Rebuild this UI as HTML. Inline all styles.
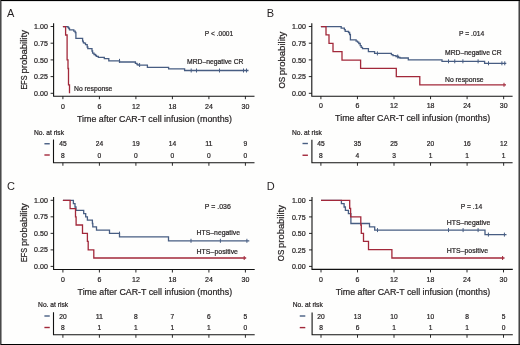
<!DOCTYPE html>
<html><head><meta charset="utf-8"><style>
html,body{margin:0;padding:0;background:#fff;}
svg{display:block;will-change:transform;}
text{font-family:"Liberation Sans", sans-serif;stroke:#231f20;stroke-width:0.22px;}
</style></head><body>
<svg width="520" height="345" viewBox="0 0 520 345">
<rect x="0" y="0" width="520" height="345" fill="#fefefd"/>
<path d="M53.6,23.3 V96.2 H254.5" fill="none" stroke="#111" stroke-width="1.1"/>
<line x1="50.6" y1="26.50" x2="53.6" y2="26.50" stroke="#111" stroke-width="0.9"/>
<text x="47.8" y="29.10" font-size="7.3" text-anchor="end" fill="#231f20" textLength="13.7" lengthAdjust="spacingAndGlyphs">1.00</text>
<line x1="50.6" y1="43.20" x2="53.6" y2="43.20" stroke="#111" stroke-width="0.9"/>
<text x="47.8" y="45.80" font-size="7.3" text-anchor="end" fill="#231f20" textLength="13.7" lengthAdjust="spacingAndGlyphs">0.75</text>
<line x1="50.6" y1="59.90" x2="53.6" y2="59.90" stroke="#111" stroke-width="0.9"/>
<text x="47.8" y="62.50" font-size="7.3" text-anchor="end" fill="#231f20" textLength="13.7" lengthAdjust="spacingAndGlyphs">0.50</text>
<line x1="50.6" y1="76.60" x2="53.6" y2="76.60" stroke="#111" stroke-width="0.9"/>
<text x="47.8" y="79.20" font-size="7.3" text-anchor="end" fill="#231f20" textLength="13.7" lengthAdjust="spacingAndGlyphs">0.25</text>
<line x1="50.6" y1="93.30" x2="53.6" y2="93.30" stroke="#111" stroke-width="0.9"/>
<text x="47.8" y="95.90" font-size="7.3" text-anchor="end" fill="#231f20" textLength="13.7" lengthAdjust="spacingAndGlyphs">0.00</text>
<line x1="62.90" y1="96.2" x2="62.90" y2="99.2" stroke="#111" stroke-width="0.9"/>
<text x="62.90" y="109.1" font-size="7.5" text-anchor="middle" fill="#231f20" textLength="3.9" lengthAdjust="spacingAndGlyphs">0</text>
<line x1="99.40" y1="96.2" x2="99.40" y2="99.2" stroke="#111" stroke-width="0.9"/>
<text x="99.40" y="109.1" font-size="7.5" text-anchor="middle" fill="#231f20" textLength="3.9" lengthAdjust="spacingAndGlyphs">6</text>
<line x1="135.90" y1="96.2" x2="135.90" y2="99.2" stroke="#111" stroke-width="0.9"/>
<text x="135.90" y="109.1" font-size="7.5" text-anchor="middle" fill="#231f20" textLength="7.8" lengthAdjust="spacingAndGlyphs">12</text>
<line x1="172.40" y1="96.2" x2="172.40" y2="99.2" stroke="#111" stroke-width="0.9"/>
<text x="172.40" y="109.1" font-size="7.5" text-anchor="middle" fill="#231f20" textLength="7.8" lengthAdjust="spacingAndGlyphs">18</text>
<line x1="208.90" y1="96.2" x2="208.90" y2="99.2" stroke="#111" stroke-width="0.9"/>
<text x="208.90" y="109.1" font-size="7.5" text-anchor="middle" fill="#231f20" textLength="7.8" lengthAdjust="spacingAndGlyphs">24</text>
<line x1="245.40" y1="96.2" x2="245.40" y2="99.2" stroke="#111" stroke-width="0.9"/>
<text x="245.40" y="109.1" font-size="7.5" text-anchor="middle" fill="#231f20" textLength="7.8" lengthAdjust="spacingAndGlyphs">30</text>
<text x="77.0" y="122.1" font-size="9.9" text-anchor="start" fill="#231f20" textLength="155" lengthAdjust="spacingAndGlyphs">Time after CAR-T cell infusion (months)</text>
<text transform="translate(26.7,89.4) rotate(-90)" x="0" y="0" font-size="8.6" fill="#231f20" textLength="13.90" lengthAdjust="spacingAndGlyphs">EFS</text>
<text transform="translate(26.7,73.6) rotate(-90)" x="0" y="0" font-size="8.6" fill="#231f20" textLength="43.50" lengthAdjust="spacingAndGlyphs">probability</text>
<text x="7.0" y="16.8" font-size="11" text-anchor="start" fill="#231f20" style="stroke:none">A</text>
<text x="204.8" y="35.6" font-size="7.9" text-anchor="start" fill="#231f20" textLength="28.4" lengthAdjust="spacingAndGlyphs">P &lt; .0001</text>
<text x="187" y="64" font-size="7.2" text-anchor="start" fill="#231f20" textLength="56.5" lengthAdjust="spacingAndGlyphs">MRD–negative CR</text>
<text x="74" y="90.8" font-size="7.2" text-anchor="start" fill="#231f20" textLength="38.4" lengthAdjust="spacingAndGlyphs">No response</text>
<path d="M62.9,26.6 H68 V27.5 H68.8 V28.5 H69.5 V29.8 H73.8 V31.2 H75.2 V32.5 H75.9 V38.4 H82.6 V41.2 H83.3 V42.6 H84 V43.2 H85.5 V44.7 H87.2 V47 H87.8 V48.7 H92 V51 H92.6 V53.2 H94 V54.5 H95.5 V55.5 H96.5 V56.3 H98.3 V57.4 H104.3 V58.6 H108.8 V60.85 H119.5 V62 H135.4 V63.3 H137 V64.5 H138 V65.2 H147.4 V67.3 H168.6 V68.8 H184.6 V70.5 H248.5" fill="none" stroke="#475d82" stroke-width="1.3" stroke-linejoin="miter"/>
<line x1="119.5" y1="58.85" x2="119.5" y2="62.85" stroke="#475d82" stroke-width="1"/>
<line x1="139.6" y1="63" x2="139.6" y2="67" stroke="#475d82" stroke-width="1"/>
<line x1="191.2" y1="68.5" x2="191.2" y2="72.5" stroke="#475d82" stroke-width="1"/>
<line x1="196.5" y1="68.5" x2="196.5" y2="72.5" stroke="#475d82" stroke-width="1"/>
<line x1="219.5" y1="68.5" x2="219.5" y2="72.5" stroke="#475d82" stroke-width="1"/>
<line x1="243.5" y1="68.5" x2="243.5" y2="72.5" stroke="#475d82" stroke-width="1"/>
<line x1="246.5" y1="68.5" x2="246.5" y2="72.5" stroke="#475d82" stroke-width="1"/>
<path d="M62.9,26.6 H65.6 V35 H67.1 V59.8 H68 V68.5 H68.5 V84.9 H69.5 V93.3" fill="none" stroke="#a2283a" stroke-width="1.3" stroke-linejoin="miter"/>
<text x="34" y="134.75" font-size="7.2" text-anchor="start" fill="#231f20" textLength="30" lengthAdjust="spacingAndGlyphs">No. at risk</text>
<line x1="44.4" y1="143.75" x2="49.75" y2="143.75" stroke="#475d82" stroke-width="1.4"/>
<line x1="44.4" y1="155" x2="49.75" y2="155" stroke="#a2283a" stroke-width="1.4"/>
<path d="M53.5,139.4 V162.75 H254.5" fill="none" stroke="#111" stroke-width="1.1"/>
<line x1="62.90" y1="162.75" x2="62.90" y2="165.75" stroke="#111" stroke-width="0.9"/>
<text x="62.90" y="146.25" font-size="7.0" text-anchor="middle" fill="#231f20" textLength="7.4" lengthAdjust="spacingAndGlyphs">45</text>
<text x="62.90" y="157.50" font-size="7.0" text-anchor="middle" fill="#231f20" textLength="3.7" lengthAdjust="spacingAndGlyphs">8</text>
<line x1="99.40" y1="162.75" x2="99.40" y2="165.75" stroke="#111" stroke-width="0.9"/>
<text x="99.40" y="146.25" font-size="7.0" text-anchor="middle" fill="#231f20" textLength="7.4" lengthAdjust="spacingAndGlyphs">24</text>
<text x="99.40" y="157.50" font-size="7.0" text-anchor="middle" fill="#231f20" textLength="3.7" lengthAdjust="spacingAndGlyphs">0</text>
<line x1="135.90" y1="162.75" x2="135.90" y2="165.75" stroke="#111" stroke-width="0.9"/>
<text x="135.90" y="146.25" font-size="7.0" text-anchor="middle" fill="#231f20" textLength="7.4" lengthAdjust="spacingAndGlyphs">19</text>
<text x="135.90" y="157.50" font-size="7.0" text-anchor="middle" fill="#231f20" textLength="3.7" lengthAdjust="spacingAndGlyphs">0</text>
<line x1="172.40" y1="162.75" x2="172.40" y2="165.75" stroke="#111" stroke-width="0.9"/>
<text x="172.40" y="146.25" font-size="7.0" text-anchor="middle" fill="#231f20" textLength="7.4" lengthAdjust="spacingAndGlyphs">14</text>
<text x="172.40" y="157.50" font-size="7.0" text-anchor="middle" fill="#231f20" textLength="3.7" lengthAdjust="spacingAndGlyphs">0</text>
<line x1="208.90" y1="162.75" x2="208.90" y2="165.75" stroke="#111" stroke-width="0.9"/>
<text x="208.90" y="146.25" font-size="7.0" text-anchor="middle" fill="#231f20" textLength="7.4" lengthAdjust="spacingAndGlyphs">11</text>
<text x="208.90" y="157.50" font-size="7.0" text-anchor="middle" fill="#231f20" textLength="3.7" lengthAdjust="spacingAndGlyphs">0</text>
<line x1="245.40" y1="162.75" x2="245.40" y2="165.75" stroke="#111" stroke-width="0.9"/>
<text x="245.40" y="146.25" font-size="7.0" text-anchor="middle" fill="#231f20" textLength="3.7" lengthAdjust="spacingAndGlyphs">9</text>
<text x="245.40" y="157.50" font-size="7.0" text-anchor="middle" fill="#231f20" textLength="3.7" lengthAdjust="spacingAndGlyphs">0</text>
<path d="M311.8,23.3 V96.2 H512.6" fill="none" stroke="#111" stroke-width="1.1"/>
<line x1="308.8" y1="26.50" x2="311.8" y2="26.50" stroke="#111" stroke-width="0.9"/>
<text x="305.8" y="29.10" font-size="7.3" text-anchor="end" fill="#231f20" textLength="13.7" lengthAdjust="spacingAndGlyphs">1.00</text>
<line x1="308.8" y1="43.20" x2="311.8" y2="43.20" stroke="#111" stroke-width="0.9"/>
<text x="305.8" y="45.80" font-size="7.3" text-anchor="end" fill="#231f20" textLength="13.7" lengthAdjust="spacingAndGlyphs">0.75</text>
<line x1="308.8" y1="59.90" x2="311.8" y2="59.90" stroke="#111" stroke-width="0.9"/>
<text x="305.8" y="62.50" font-size="7.3" text-anchor="end" fill="#231f20" textLength="13.7" lengthAdjust="spacingAndGlyphs">0.50</text>
<line x1="308.8" y1="76.60" x2="311.8" y2="76.60" stroke="#111" stroke-width="0.9"/>
<text x="305.8" y="79.20" font-size="7.3" text-anchor="end" fill="#231f20" textLength="13.7" lengthAdjust="spacingAndGlyphs">0.25</text>
<line x1="308.8" y1="93.30" x2="311.8" y2="93.30" stroke="#111" stroke-width="0.9"/>
<text x="305.8" y="95.90" font-size="7.3" text-anchor="end" fill="#231f20" textLength="13.7" lengthAdjust="spacingAndGlyphs">0.00</text>
<line x1="320.90" y1="96.2" x2="320.90" y2="99.2" stroke="#111" stroke-width="0.9"/>
<text x="320.90" y="107.9" font-size="7.5" text-anchor="middle" fill="#231f20" textLength="3.9" lengthAdjust="spacingAndGlyphs">0</text>
<line x1="357.45" y1="96.2" x2="357.45" y2="99.2" stroke="#111" stroke-width="0.9"/>
<text x="357.45" y="107.9" font-size="7.5" text-anchor="middle" fill="#231f20" textLength="3.9" lengthAdjust="spacingAndGlyphs">6</text>
<line x1="394.00" y1="96.2" x2="394.00" y2="99.2" stroke="#111" stroke-width="0.9"/>
<text x="394.00" y="107.9" font-size="7.5" text-anchor="middle" fill="#231f20" textLength="7.8" lengthAdjust="spacingAndGlyphs">12</text>
<line x1="430.55" y1="96.2" x2="430.55" y2="99.2" stroke="#111" stroke-width="0.9"/>
<text x="430.55" y="107.9" font-size="7.5" text-anchor="middle" fill="#231f20" textLength="7.8" lengthAdjust="spacingAndGlyphs">18</text>
<line x1="467.10" y1="96.2" x2="467.10" y2="99.2" stroke="#111" stroke-width="0.9"/>
<text x="467.10" y="107.9" font-size="7.5" text-anchor="middle" fill="#231f20" textLength="7.8" lengthAdjust="spacingAndGlyphs">24</text>
<line x1="503.65" y1="96.2" x2="503.65" y2="99.2" stroke="#111" stroke-width="0.9"/>
<text x="503.65" y="107.9" font-size="7.5" text-anchor="middle" fill="#231f20" textLength="7.8" lengthAdjust="spacingAndGlyphs">30</text>
<text x="335.1" y="121.2" font-size="9.9" text-anchor="start" fill="#231f20" textLength="155" lengthAdjust="spacingAndGlyphs">Time after CAR-T cell infusion (months)</text>
<text transform="translate(285.0,88.6) rotate(-90)" x="0" y="0" font-size="8.6" fill="#231f20" textLength="11.70" lengthAdjust="spacingAndGlyphs">OS</text>
<text transform="translate(285.0,75.3) rotate(-90)" x="0" y="0" font-size="8.6" fill="#231f20" textLength="43.50" lengthAdjust="spacingAndGlyphs">probability</text>
<text x="266.7" y="16.7" font-size="11" text-anchor="start" fill="#231f20" style="stroke:none">B</text>
<text x="459" y="35.6" font-size="7.9" text-anchor="start" fill="#231f20" textLength="25.2" lengthAdjust="spacingAndGlyphs">P = .014</text>
<text x="445" y="54.75" font-size="7.2" text-anchor="start" fill="#231f20" textLength="56.6" lengthAdjust="spacingAndGlyphs">MRD–negative CR</text>
<text x="445" y="81.9" font-size="7.2" text-anchor="start" fill="#231f20" textLength="38.6" lengthAdjust="spacingAndGlyphs">No response</text>
<path d="M320.9,26.7 H341.2 V28.1 H344.4 V29.6 H345.2 V31.3 H348.5 V32.5 H349.6 V34.5 H350.4 V39.8 H356.1 V41.2 H357.5 V42.2 H358.8 V43.5 H360.2 V45.7 H361.2 V47.3 H362.5 V48.6 H368.4 V51.7 H374.6 V53.4 H391.4 V54.6 H393 V55.6 H396 V56.5 H398.5 V57.5 H400 V58 H408.3 V59.8 H442 V61.3 H484.6 V63.3 H506.3" fill="none" stroke="#475d82" stroke-width="1.3" stroke-linejoin="miter"/>
<line x1="377.4" y1="51.4" x2="377.4" y2="55.4" stroke="#475d82" stroke-width="1"/>
<line x1="397.7" y1="54.5" x2="397.7" y2="58.5" stroke="#475d82" stroke-width="1"/>
<line x1="448.5" y1="59.3" x2="448.5" y2="63.3" stroke="#475d82" stroke-width="1"/>
<line x1="454.75" y1="59.3" x2="454.75" y2="63.3" stroke="#475d82" stroke-width="1"/>
<line x1="462.9" y1="59.3" x2="462.9" y2="63.3" stroke="#475d82" stroke-width="1"/>
<line x1="478.1" y1="59.3" x2="478.1" y2="63.3" stroke="#475d82" stroke-width="1"/>
<line x1="488.5" y1="61.3" x2="488.5" y2="65.3" stroke="#475d82" stroke-width="1"/>
<line x1="501.9" y1="61.3" x2="501.9" y2="65.3" stroke="#475d82" stroke-width="1"/>
<line x1="504.75" y1="61.3" x2="504.75" y2="65.3" stroke="#475d82" stroke-width="1"/>
<path d="M320.9,26.6 H326 V34.9 H329 V43.3 H333 V51.7 H342 V60.1 H360.6 V68.3 H396.3 V76.6 H419.8 V84.8 H506" fill="none" stroke="#a2283a" stroke-width="1.3" stroke-linejoin="miter"/>
<line x1="504" y1="82.8" x2="504" y2="86.8" stroke="#a2283a" stroke-width="1"/>
<text x="291.9" y="134.75" font-size="7.2" text-anchor="start" fill="#231f20" textLength="30" lengthAdjust="spacingAndGlyphs">No. at risk</text>
<line x1="302.5" y1="143.5" x2="307.9" y2="143.5" stroke="#475d82" stroke-width="1.4"/>
<line x1="302.5" y1="155.25" x2="307.9" y2="155.25" stroke="#a2283a" stroke-width="1.4"/>
<path d="M311.9,139.75 V162.75 H512.6" fill="none" stroke="#111" stroke-width="1.1"/>
<line x1="320.90" y1="162.75" x2="320.90" y2="165.75" stroke="#111" stroke-width="0.9"/>
<text x="320.90" y="146.00" font-size="7.0" text-anchor="middle" fill="#231f20" textLength="7.4" lengthAdjust="spacingAndGlyphs">45</text>
<text x="320.90" y="157.75" font-size="7.0" text-anchor="middle" fill="#231f20" textLength="3.7" lengthAdjust="spacingAndGlyphs">8</text>
<line x1="357.45" y1="162.75" x2="357.45" y2="165.75" stroke="#111" stroke-width="0.9"/>
<text x="357.45" y="146.00" font-size="7.0" text-anchor="middle" fill="#231f20" textLength="7.4" lengthAdjust="spacingAndGlyphs">35</text>
<text x="357.45" y="157.75" font-size="7.0" text-anchor="middle" fill="#231f20" textLength="3.7" lengthAdjust="spacingAndGlyphs">4</text>
<line x1="394.00" y1="162.75" x2="394.00" y2="165.75" stroke="#111" stroke-width="0.9"/>
<text x="394.00" y="146.00" font-size="7.0" text-anchor="middle" fill="#231f20" textLength="7.4" lengthAdjust="spacingAndGlyphs">25</text>
<text x="394.00" y="157.75" font-size="7.0" text-anchor="middle" fill="#231f20" textLength="3.7" lengthAdjust="spacingAndGlyphs">3</text>
<line x1="430.55" y1="162.75" x2="430.55" y2="165.75" stroke="#111" stroke-width="0.9"/>
<text x="430.55" y="146.00" font-size="7.0" text-anchor="middle" fill="#231f20" textLength="7.4" lengthAdjust="spacingAndGlyphs">20</text>
<text x="430.55" y="157.75" font-size="7.0" text-anchor="middle" fill="#231f20" textLength="3.7" lengthAdjust="spacingAndGlyphs">1</text>
<line x1="467.10" y1="162.75" x2="467.10" y2="165.75" stroke="#111" stroke-width="0.9"/>
<text x="467.10" y="146.00" font-size="7.0" text-anchor="middle" fill="#231f20" textLength="7.4" lengthAdjust="spacingAndGlyphs">16</text>
<text x="467.10" y="157.75" font-size="7.0" text-anchor="middle" fill="#231f20" textLength="3.7" lengthAdjust="spacingAndGlyphs">1</text>
<line x1="503.65" y1="162.75" x2="503.65" y2="165.75" stroke="#111" stroke-width="0.9"/>
<text x="503.65" y="146.00" font-size="7.0" text-anchor="middle" fill="#231f20" textLength="7.4" lengthAdjust="spacingAndGlyphs">12</text>
<text x="503.65" y="157.75" font-size="7.0" text-anchor="middle" fill="#231f20" textLength="3.7" lengthAdjust="spacingAndGlyphs">1</text>
<path d="M53.6,197.0 V269.5 H254.7" fill="none" stroke="#111" stroke-width="1.1"/>
<line x1="50.6" y1="200.30" x2="53.6" y2="200.30" stroke="#111" stroke-width="0.9"/>
<text x="47.8" y="202.90" font-size="7.3" text-anchor="end" fill="#231f20" textLength="13.7" lengthAdjust="spacingAndGlyphs">1.00</text>
<line x1="50.6" y1="216.82" x2="53.6" y2="216.82" stroke="#111" stroke-width="0.9"/>
<text x="47.8" y="219.42" font-size="7.3" text-anchor="end" fill="#231f20" textLength="13.7" lengthAdjust="spacingAndGlyphs">0.75</text>
<line x1="50.6" y1="233.35" x2="53.6" y2="233.35" stroke="#111" stroke-width="0.9"/>
<text x="47.8" y="235.95" font-size="7.3" text-anchor="end" fill="#231f20" textLength="13.7" lengthAdjust="spacingAndGlyphs">0.50</text>
<line x1="50.6" y1="249.88" x2="53.6" y2="249.88" stroke="#111" stroke-width="0.9"/>
<text x="47.8" y="252.47" font-size="7.3" text-anchor="end" fill="#231f20" textLength="13.7" lengthAdjust="spacingAndGlyphs">0.25</text>
<line x1="50.6" y1="266.40" x2="53.6" y2="266.40" stroke="#111" stroke-width="0.9"/>
<text x="47.8" y="269.00" font-size="7.3" text-anchor="end" fill="#231f20" textLength="13.7" lengthAdjust="spacingAndGlyphs">0.00</text>
<line x1="62.90" y1="269.5" x2="62.90" y2="272.5" stroke="#111" stroke-width="0.9"/>
<text x="62.90" y="282.1" font-size="7.5" text-anchor="middle" fill="#231f20" textLength="3.9" lengthAdjust="spacingAndGlyphs">0</text>
<line x1="99.40" y1="269.5" x2="99.40" y2="272.5" stroke="#111" stroke-width="0.9"/>
<text x="99.40" y="282.1" font-size="7.5" text-anchor="middle" fill="#231f20" textLength="3.9" lengthAdjust="spacingAndGlyphs">6</text>
<line x1="135.90" y1="269.5" x2="135.90" y2="272.5" stroke="#111" stroke-width="0.9"/>
<text x="135.90" y="282.1" font-size="7.5" text-anchor="middle" fill="#231f20" textLength="7.8" lengthAdjust="spacingAndGlyphs">12</text>
<line x1="172.40" y1="269.5" x2="172.40" y2="272.5" stroke="#111" stroke-width="0.9"/>
<text x="172.40" y="282.1" font-size="7.5" text-anchor="middle" fill="#231f20" textLength="7.8" lengthAdjust="spacingAndGlyphs">18</text>
<line x1="208.90" y1="269.5" x2="208.90" y2="272.5" stroke="#111" stroke-width="0.9"/>
<text x="208.90" y="282.1" font-size="7.5" text-anchor="middle" fill="#231f20" textLength="7.8" lengthAdjust="spacingAndGlyphs">24</text>
<line x1="245.40" y1="269.5" x2="245.40" y2="272.5" stroke="#111" stroke-width="0.9"/>
<text x="245.40" y="282.1" font-size="7.5" text-anchor="middle" fill="#231f20" textLength="7.8" lengthAdjust="spacingAndGlyphs">30</text>
<text x="77.6" y="295.1" font-size="9.9" text-anchor="start" fill="#231f20" textLength="154.5" lengthAdjust="spacingAndGlyphs">Time after CAR-T cell infusion (months)</text>
<text transform="translate(26.8,261.9) rotate(-90)" x="0" y="0" font-size="8.6" fill="#231f20" textLength="13.90" lengthAdjust="spacingAndGlyphs">EFS</text>
<text transform="translate(26.8,246.1) rotate(-90)" x="0" y="0" font-size="8.6" fill="#231f20" textLength="42.80" lengthAdjust="spacingAndGlyphs">probability</text>
<text x="7.0" y="190.2" font-size="11" text-anchor="start" fill="#231f20" style="stroke:none">C</text>
<text x="204.8" y="209.2" font-size="7.9" text-anchor="start" fill="#231f20" textLength="26.0" lengthAdjust="spacingAndGlyphs">P = .036</text>
<text x="196.6" y="234.5" font-size="7.2" text-anchor="start" fill="#231f20" textLength="43.4" lengthAdjust="spacingAndGlyphs">HTS–negative</text>
<text x="196.6" y="253.6" font-size="7.2" text-anchor="start" fill="#231f20" textLength="41.4" lengthAdjust="spacingAndGlyphs">HTS–positive</text>
<path d="M62.9,200.4 H73.4 V203.7 H75 V207 H76 V210.3 H83.7 V213.6 H85.7 V216.9 H87.4 V220.2 H92.4 V223.5 H92.8 V226.8 H96.5 V230.1 H109.5 V233.4 H119.5 V236.9 H168.5 V240.8 H249.3" fill="none" stroke="#475d82" stroke-width="1.3" stroke-linejoin="miter"/>
<line x1="119.5" y1="231.6" x2="119.5" y2="235.6" stroke="#475d82" stroke-width="1"/>
<line x1="191" y1="238.8" x2="191" y2="242.8" stroke="#475d82" stroke-width="1"/>
<line x1="220.4" y1="238.8" x2="220.4" y2="242.8" stroke="#475d82" stroke-width="1"/>
<line x1="246.9" y1="238.8" x2="246.9" y2="242.8" stroke="#475d82" stroke-width="1"/>
<path d="M62.9,200.4 H70.1 V208.6 H75.5 V216.9 H76.1 V225 H82.5 V233.3 H87.4 V241.4 H88.2 V249.8 H93.8 V258 H246.2" fill="none" stroke="#a2283a" stroke-width="1.3" stroke-linejoin="miter"/>
<line x1="244.2" y1="256" x2="244.2" y2="260" stroke="#a2283a" stroke-width="1"/>
<text x="38.1" y="306.6" font-size="7.2" text-anchor="start" fill="#231f20" textLength="30" lengthAdjust="spacingAndGlyphs">No. at risk</text>
<line x1="44.4" y1="316" x2="49.75" y2="316" stroke="#475d82" stroke-width="1.4"/>
<line x1="44.4" y1="327.5" x2="49.75" y2="327.5" stroke="#a2283a" stroke-width="1.4"/>
<path d="M53.5,312.25 V334.75 H254.7" fill="none" stroke="#111" stroke-width="1.1"/>
<line x1="62.90" y1="334.75" x2="62.90" y2="337.75" stroke="#111" stroke-width="0.9"/>
<text x="62.90" y="318.50" font-size="7.0" text-anchor="middle" fill="#231f20" textLength="7.4" lengthAdjust="spacingAndGlyphs">20</text>
<text x="62.90" y="330.00" font-size="7.0" text-anchor="middle" fill="#231f20" textLength="3.7" lengthAdjust="spacingAndGlyphs">8</text>
<line x1="99.40" y1="334.75" x2="99.40" y2="337.75" stroke="#111" stroke-width="0.9"/>
<text x="99.40" y="318.50" font-size="7.0" text-anchor="middle" fill="#231f20" textLength="7.4" lengthAdjust="spacingAndGlyphs">11</text>
<text x="99.40" y="330.00" font-size="7.0" text-anchor="middle" fill="#231f20" textLength="3.7" lengthAdjust="spacingAndGlyphs">1</text>
<line x1="135.90" y1="334.75" x2="135.90" y2="337.75" stroke="#111" stroke-width="0.9"/>
<text x="135.90" y="318.50" font-size="7.0" text-anchor="middle" fill="#231f20" textLength="3.7" lengthAdjust="spacingAndGlyphs">8</text>
<text x="135.90" y="330.00" font-size="7.0" text-anchor="middle" fill="#231f20" textLength="3.7" lengthAdjust="spacingAndGlyphs">1</text>
<line x1="172.40" y1="334.75" x2="172.40" y2="337.75" stroke="#111" stroke-width="0.9"/>
<text x="172.40" y="318.50" font-size="7.0" text-anchor="middle" fill="#231f20" textLength="3.7" lengthAdjust="spacingAndGlyphs">7</text>
<text x="172.40" y="330.00" font-size="7.0" text-anchor="middle" fill="#231f20" textLength="3.7" lengthAdjust="spacingAndGlyphs">1</text>
<line x1="208.90" y1="334.75" x2="208.90" y2="337.75" stroke="#111" stroke-width="0.9"/>
<text x="208.90" y="318.50" font-size="7.0" text-anchor="middle" fill="#231f20" textLength="3.7" lengthAdjust="spacingAndGlyphs">6</text>
<text x="208.90" y="330.00" font-size="7.0" text-anchor="middle" fill="#231f20" textLength="3.7" lengthAdjust="spacingAndGlyphs">1</text>
<line x1="245.40" y1="334.75" x2="245.40" y2="337.75" stroke="#111" stroke-width="0.9"/>
<text x="245.40" y="318.50" font-size="7.0" text-anchor="middle" fill="#231f20" textLength="3.7" lengthAdjust="spacingAndGlyphs">5</text>
<text x="245.40" y="330.00" font-size="7.0" text-anchor="middle" fill="#231f20" textLength="3.7" lengthAdjust="spacingAndGlyphs">0</text>
<path d="M312.0,197.0 V269.4 H512.8" fill="none" stroke="#111" stroke-width="1.1"/>
<line x1="309.0" y1="200.40" x2="312.0" y2="200.40" stroke="#111" stroke-width="0.9"/>
<text x="305.6" y="203.00" font-size="7.3" text-anchor="end" fill="#231f20" textLength="13.7" lengthAdjust="spacingAndGlyphs">1.00</text>
<line x1="309.0" y1="216.90" x2="312.0" y2="216.90" stroke="#111" stroke-width="0.9"/>
<text x="305.6" y="219.50" font-size="7.3" text-anchor="end" fill="#231f20" textLength="13.7" lengthAdjust="spacingAndGlyphs">0.75</text>
<line x1="309.0" y1="233.40" x2="312.0" y2="233.40" stroke="#111" stroke-width="0.9"/>
<text x="305.6" y="236.00" font-size="7.3" text-anchor="end" fill="#231f20" textLength="13.7" lengthAdjust="spacingAndGlyphs">0.50</text>
<line x1="309.0" y1="249.90" x2="312.0" y2="249.90" stroke="#111" stroke-width="0.9"/>
<text x="305.6" y="252.50" font-size="7.3" text-anchor="end" fill="#231f20" textLength="13.7" lengthAdjust="spacingAndGlyphs">0.25</text>
<line x1="309.0" y1="266.40" x2="312.0" y2="266.40" stroke="#111" stroke-width="0.9"/>
<text x="305.6" y="269.00" font-size="7.3" text-anchor="end" fill="#231f20" textLength="13.7" lengthAdjust="spacingAndGlyphs">0.00</text>
<line x1="321.00" y1="269.4" x2="321.00" y2="272.4" stroke="#111" stroke-width="0.9"/>
<text x="321.00" y="281.9" font-size="7.5" text-anchor="middle" fill="#231f20" textLength="3.9" lengthAdjust="spacingAndGlyphs">0</text>
<line x1="357.50" y1="269.4" x2="357.50" y2="272.4" stroke="#111" stroke-width="0.9"/>
<text x="357.50" y="281.9" font-size="7.5" text-anchor="middle" fill="#231f20" textLength="3.9" lengthAdjust="spacingAndGlyphs">6</text>
<line x1="394.00" y1="269.4" x2="394.00" y2="272.4" stroke="#111" stroke-width="0.9"/>
<text x="394.00" y="281.9" font-size="7.5" text-anchor="middle" fill="#231f20" textLength="7.8" lengthAdjust="spacingAndGlyphs">12</text>
<line x1="430.50" y1="269.4" x2="430.50" y2="272.4" stroke="#111" stroke-width="0.9"/>
<text x="430.50" y="281.9" font-size="7.5" text-anchor="middle" fill="#231f20" textLength="7.8" lengthAdjust="spacingAndGlyphs">18</text>
<line x1="467.00" y1="269.4" x2="467.00" y2="272.4" stroke="#111" stroke-width="0.9"/>
<text x="467.00" y="281.9" font-size="7.5" text-anchor="middle" fill="#231f20" textLength="7.8" lengthAdjust="spacingAndGlyphs">24</text>
<line x1="503.50" y1="269.4" x2="503.50" y2="272.4" stroke="#111" stroke-width="0.9"/>
<text x="503.50" y="281.9" font-size="7.5" text-anchor="middle" fill="#231f20" textLength="7.8" lengthAdjust="spacingAndGlyphs">30</text>
<text x="335.8" y="295.1" font-size="9.9" text-anchor="start" fill="#231f20" textLength="154.5" lengthAdjust="spacingAndGlyphs">Time after CAR-T cell infusion (months)</text>
<text transform="translate(284.3,261.2) rotate(-90)" x="0" y="0" font-size="8.6" fill="#231f20" textLength="11.60" lengthAdjust="spacingAndGlyphs">OS</text>
<text transform="translate(284.3,247.9) rotate(-90)" x="0" y="0" font-size="8.6" fill="#231f20" textLength="42.80" lengthAdjust="spacingAndGlyphs">probability</text>
<text x="266.7" y="190.1" font-size="11" text-anchor="start" fill="#231f20" style="stroke:none">D</text>
<text x="460.8" y="208.9" font-size="7.9" text-anchor="start" fill="#231f20" textLength="21.4" lengthAdjust="spacingAndGlyphs">P = .14</text>
<text x="446.8" y="225" font-size="7.2" text-anchor="start" fill="#231f20" textLength="43.4" lengthAdjust="spacingAndGlyphs">HTS–negative</text>
<text x="446.8" y="252.5" font-size="7.2" text-anchor="start" fill="#231f20" textLength="41.2" lengthAdjust="spacingAndGlyphs">HTS–positive</text>
<path d="M321,200.4 H341.4 V203.7 H344.1 V207 H345.4 V210.3 H348.4 V213.6 H350.9 V223.5 H369.5 V226.8 H374.7 V230.1 H485 V234.6 H506.5" fill="none" stroke="#475d82" stroke-width="1.3" stroke-linejoin="miter"/>
<line x1="377.5" y1="228.1" x2="377.5" y2="232.1" stroke="#475d82" stroke-width="1"/>
<line x1="448.5" y1="228.1" x2="448.5" y2="232.1" stroke="#475d82" stroke-width="1"/>
<line x1="463.1" y1="228.1" x2="463.1" y2="232.1" stroke="#475d82" stroke-width="1"/>
<line x1="478.1" y1="228.1" x2="478.1" y2="232.1" stroke="#475d82" stroke-width="1"/>
<line x1="488.4" y1="232.6" x2="488.4" y2="236.6" stroke="#475d82" stroke-width="1"/>
<line x1="504.4" y1="232.6" x2="504.4" y2="236.6" stroke="#475d82" stroke-width="1"/>
<path d="M321,200.4 H349.7 V208.4 H350.6 V216.8 H360.8 V225 H361.3 V233.3 H363.5 V241.4 H368.5 V249.7 H391.9 V258 H504.5" fill="none" stroke="#a2283a" stroke-width="1.3" stroke-linejoin="miter"/>
<line x1="502.6" y1="256" x2="502.6" y2="260" stroke="#a2283a" stroke-width="1"/>
<text x="292.75" y="306.6" font-size="7.2" text-anchor="start" fill="#231f20" textLength="30" lengthAdjust="spacingAndGlyphs">No. at risk</text>
<line x1="299.75" y1="316" x2="305.3" y2="316" stroke="#475d82" stroke-width="1.4"/>
<line x1="299.75" y1="327.6" x2="305.3" y2="327.6" stroke="#a2283a" stroke-width="1.4"/>
<path d="M312.1,312.4 V334.75 H512.8" fill="none" stroke="#111" stroke-width="1.1"/>
<line x1="321.00" y1="334.75" x2="321.00" y2="337.75" stroke="#111" stroke-width="0.9"/>
<text x="321.00" y="318.50" font-size="7.0" text-anchor="middle" fill="#231f20" textLength="7.4" lengthAdjust="spacingAndGlyphs">20</text>
<text x="321.00" y="330.10" font-size="7.0" text-anchor="middle" fill="#231f20" textLength="3.7" lengthAdjust="spacingAndGlyphs">8</text>
<line x1="357.50" y1="334.75" x2="357.50" y2="337.75" stroke="#111" stroke-width="0.9"/>
<text x="357.50" y="318.50" font-size="7.0" text-anchor="middle" fill="#231f20" textLength="7.4" lengthAdjust="spacingAndGlyphs">13</text>
<text x="357.50" y="330.10" font-size="7.0" text-anchor="middle" fill="#231f20" textLength="3.7" lengthAdjust="spacingAndGlyphs">6</text>
<line x1="394.00" y1="334.75" x2="394.00" y2="337.75" stroke="#111" stroke-width="0.9"/>
<text x="394.00" y="318.50" font-size="7.0" text-anchor="middle" fill="#231f20" textLength="7.4" lengthAdjust="spacingAndGlyphs">10</text>
<text x="394.00" y="330.10" font-size="7.0" text-anchor="middle" fill="#231f20" textLength="3.7" lengthAdjust="spacingAndGlyphs">1</text>
<line x1="430.50" y1="334.75" x2="430.50" y2="337.75" stroke="#111" stroke-width="0.9"/>
<text x="430.50" y="318.50" font-size="7.0" text-anchor="middle" fill="#231f20" textLength="7.4" lengthAdjust="spacingAndGlyphs">10</text>
<text x="430.50" y="330.10" font-size="7.0" text-anchor="middle" fill="#231f20" textLength="3.7" lengthAdjust="spacingAndGlyphs">1</text>
<line x1="467.00" y1="334.75" x2="467.00" y2="337.75" stroke="#111" stroke-width="0.9"/>
<text x="467.00" y="318.50" font-size="7.0" text-anchor="middle" fill="#231f20" textLength="3.7" lengthAdjust="spacingAndGlyphs">8</text>
<text x="467.00" y="330.10" font-size="7.0" text-anchor="middle" fill="#231f20" textLength="3.7" lengthAdjust="spacingAndGlyphs">1</text>
<line x1="503.50" y1="334.75" x2="503.50" y2="337.75" stroke="#111" stroke-width="0.9"/>
<text x="503.50" y="318.50" font-size="7.0" text-anchor="middle" fill="#231f20" textLength="3.7" lengthAdjust="spacingAndGlyphs">5</text>
<text x="503.50" y="330.10" font-size="7.0" text-anchor="middle" fill="#231f20" textLength="3.7" lengthAdjust="spacingAndGlyphs">0</text>
<rect x="0" y="0" width="1" height="345" fill="#4a4a4a"/>
<rect x="1" y="1" width="1" height="343" fill="#9a9a9a"/>
<rect x="518" y="1" width="1" height="343" fill="#9a9a9a"/>
<rect x="519" y="1" width="1" height="343" fill="#444"/>
<rect x="1" y="0" width="519" height="1" fill="#000"/>
<rect x="2" y="1" width="516" height="1" fill="#e4e4e4"/>
<rect x="1" y="344" width="519" height="1" fill="#000"/>
</svg>
</body></html>
